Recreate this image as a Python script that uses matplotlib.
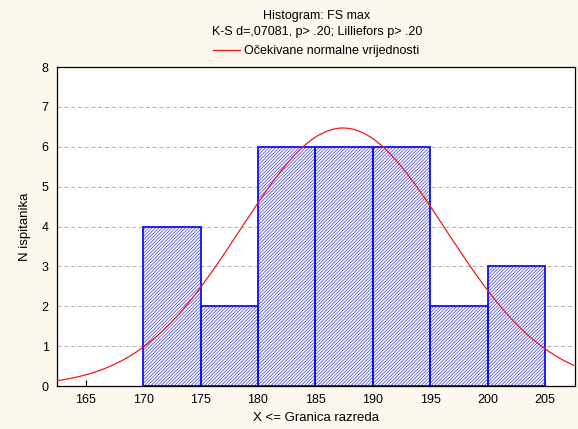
import numpy as np
import matplotlib.pyplot as plt

# class upper limits and counts
edges = [170, 175, 180, 185, 190, 195, 200, 205]
counts = [4, 2, 6, 6, 6, 2, 3]
mean_fs = 187.4
sd_fs = 8.94

plt.rcParams['font.family'] = ['Liberation Sans', 'DejaVu Sans']
plt.rcParams['hatch.linewidth'] = 0.5

fig = plt.figure(figsize=(5.78, 4.29), dpi=100, facecolor='#fdf8ee')
ax = fig.add_axes([0.0986, 0.1002, 0.8962, 0.7436])
ax.set_facecolor('white')

lefts = edges[:-1]
ax.bar(lefts, counts, width=5, align='edge', color='white', edgecolor='#3a3af0',
       hatch='/' * 10, linewidth=0, zorder=2)
# hatch drawn in a lighter blue, outline kept strong
ax.bar(lefts, counts, width=5, align='edge', color='none', edgecolor='#1010ee',
       linewidth=1.3, zorder=2.5)

n = sum(counts)
x = np.linspace(162.5, 207.5, 300)
y = n * 5 / (sd_fs * np.sqrt(2 * np.pi)) * np.exp(-0.5 * ((x - mean_fs) / sd_fs) ** 2)
line, = ax.plot(x, y, color='#ee1c1c', linewidth=0.9, zorder=3)

ax.set_xlim(162.5, 207.6)
ax.set_ylim(0, 8)
ax.set_xticks(range(165, 206, 5))
ax.set_yticks(range(0, 9))
ax.yaxis.grid(True, linestyle=(0, (4, 3)), color='#b0b0b0', linewidth=0.7, zorder=0)
ax.tick_params(axis='both', labelsize=9, length=0, pad=6)
ax.tick_params(axis='x', direction='in', length=4, top=False)
for s in ax.spines.values():
    s.set_color('black')
    s.set_linewidth(0.9)

ax.set_xlabel('X <= Granica razreda', fontsize=9.5, labelpad=4)
ax.set_ylabel('N ispitanika', fontsize=9.5, labelpad=8)

fig.text(0.548, 0.962, 'Histogram: FS max', ha='center', va='center', fontsize=9)
fig.text(0.548, 0.926, 'K-S d=,07081, p> .20; Lilliefors p> .20', ha='center', va='center', fontsize=9)
ax.legend([line], ['Očekivane normalne vrijednosti'], loc='lower center',
          bbox_to_anchor=(0.5, 1.0), frameon=False, fontsize=9,
          handlelength=2.2, handletextpad=0.3, borderaxespad=0.4)

fig.savefig('out.png', dpi=100, facecolor=fig.get_facecolor())
